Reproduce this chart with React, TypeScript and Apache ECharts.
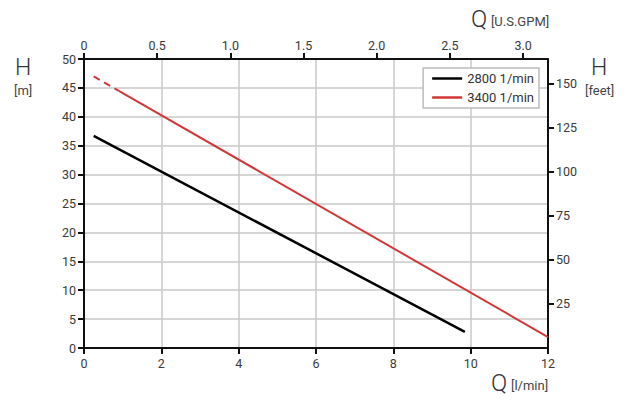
import React, { useEffect, useRef } from "react";
import * as echarts from "echarts";

const LPM_PER_GPM = 3.785;
const M_TO_FT = 3.2808;

const gpmTicks = [0, 0.5, 1.0, 1.5, 2.0, 2.5, 3.0];
const feetTicks = [25, 50, 75, 100, 125, 150];

const seriesNames = ["2800 1/min", "3400 1/min"];
const q2800 = [0.25, 9.85];
const h2800 = [36.7, 2.8];
const q3400Dashed = [0.25, 0.9];
const h3400Dashed = [47.0, 44.5];
const q3400 = [0.9, 12];
const h3400 = [44.5, 1.9];

const RED = "#d03838";
const FONT = "Roboto, 'DejaVu Sans', sans-serif";

const pairs = (xs: number[], ys: number[]) => xs.map((x, i) => [x, ys[i]]);

export default function App() {
  const ref = useRef<HTMLDivElement>(null);
  useEffect(() => {
    const chart = echarts.init(ref.current!, null, { renderer: "svg" });
    const labelStyle = { color: "#3a3a3a", fontSize: 12.5, fontFamily: FONT };
    const axisLine = { show: true, onZero: false, lineStyle: { color: "#111", width: 2 } };
    const axisTick = { show: true, length: 6, lineStyle: { color: "#111", width: 2 } };
    chart.setOption({
      animation: false,
      backgroundColor: "#fff",
      grid: { left: 84, right: 87, top: 59, bottom: 52 },
      legend: {
        data: seriesNames,
        orient: "vertical",
        right: 96,
        top: 68,
        icon: "rect",
        itemWidth: 30,
        itemHeight: 2.5,
        itemGap: 6,
        padding: [4, 5, 4, 9],
        borderColor: "#bcbcbc",
        borderWidth: 1.5,
        borderRadius: 0,
        backgroundColor: "#fff",
        textStyle: { color: "#333", fontSize: 13, fontFamily: FONT },
      },
      xAxis: [
        {
          type: "value",
          position: "bottom",
          min: 0,
          max: 12,
          interval: 2,
          axisLine,
          axisTick,
          axisLabel: { ...labelStyle, margin: 9 },
          splitLine: { show: true, lineStyle: { color: "#c8c8c8", width: 1.5 } },
        },
        {
          type: "value",
          position: "top",
          min: 0,
          max: 12 / LPM_PER_GPM,
          interval: 0.5,
          axisLine,
          axisTick: { ...axisTick, customValues: gpmTicks },
          axisLabel: {
            ...labelStyle,
            margin: 7,
            customValues: gpmTicks,
            formatter: (v: number) => (v === 0 ? "0" : v.toFixed(1)),
          },
          splitLine: { show: false },
        },
      ],
      yAxis: [
        {
          type: "value",
          position: "left",
          min: 0,
          max: 50,
          interval: 5,
          axisLine,
          axisTick,
          axisLabel: { ...labelStyle, margin: 8 },
          splitLine: { show: true, lineStyle: { color: "#c8c8c8", width: 1.5 } },
        },
        {
          type: "value",
          position: "right",
          min: 0,
          max: 50 * M_TO_FT,
          interval: 25,
          axisLine,
          axisTick: { ...axisTick, customValues: feetTicks },
          axisLabel: { ...labelStyle, margin: 8, customValues: feetTicks },
          splitLine: { show: false },
        },
      ],
      series: [
        {
          name: seriesNames[0],
          type: "line",
          data: pairs(q2800, h2800),
          symbol: "none",
          lineStyle: { color: "#000", width: 2.5 },
          itemStyle: { color: "#000" },
        },
        {
          name: seriesNames[1],
          type: "line",
          data: pairs(q3400, h3400),
          symbol: "none",
          lineStyle: { color: RED, width: 2 },
          itemStyle: { color: RED },
        },
        {
          name: "3400 dashed",
          type: "line",
          data: pairs(q3400Dashed, h3400Dashed),
          symbol: "none",
          lineStyle: { color: RED, width: 2, type: [7, 5] },
          itemStyle: { color: RED },
        },
      ],
      graphic: [
        { type: "text", left: 15, top: 56, style: { text: "H", fontSize: 23, fontWeight: 300, fill: "#333", fontFamily: FONT } },
        { type: "text", left: 14, top: 84, style: { text: "[m]", fontSize: 13, fill: "#444", fontFamily: FONT } },
        { type: "text", left: 591, top: 56, style: { text: "H", fontSize: 23, fontWeight: 300, fill: "#333", fontFamily: FONT } },
        { type: "text", left: 585, top: 84, style: { text: "[feet]", fontSize: 13, fill: "#444", fontFamily: FONT } },
        { type: "text", left: 471, top: 7, style: { text: "Q", fontSize: 24, fontWeight: 300, fill: "#333", fontFamily: FONT } },
        { type: "text", left: 491, top: 15, style: { text: "[U.S.GPM]", fontSize: 13, fill: "#444", fontFamily: FONT } },
        { type: "text", left: 491, top: 371, style: { text: "Q", fontSize: 24, fontWeight: 300, fill: "#333", fontFamily: FONT } },
        { type: "text", left: 511, top: 379, style: { text: "[l/min]", fontSize: 13, fill: "#444", fontFamily: FONT } },
      ],
    });
    return () => chart.dispose();
  }, []);
  return <div ref={ref} style={{ position: "fixed", left: 0, top: 0, width: 635, height: 400 }} />;
}
